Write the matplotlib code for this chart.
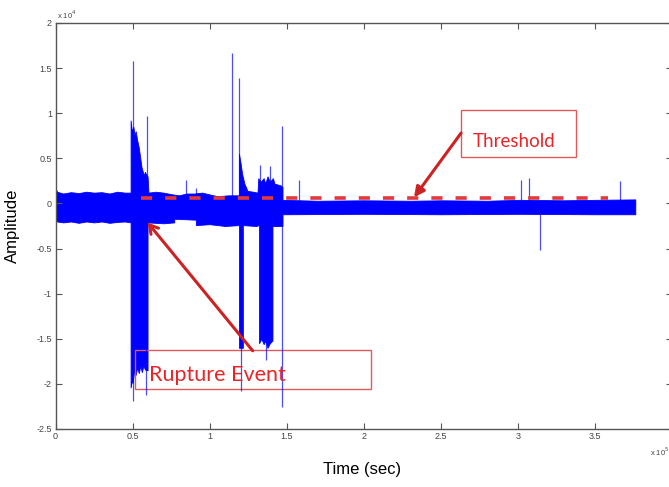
import matplotlib
matplotlib.use("Agg")
import matplotlib.pyplot as plt
from matplotlib.patches import Rectangle

plt.rcParams["font.family"] = ["Liberation Sans", "DejaVu Sans"]
plt.rcParams["axes.unicode_minus"] = False

# Signal envelope (time in units of 1e5, amplitude in units of 1e4)
t_upper = [0.0, 0.01, 0.05, 0.1, 0.15, 0.2, 0.25, 0.3, 0.35, 0.4, 0.45, 0.487,
           0.487, 0.495, 0.505, 0.512, 0.52, 0.53, 0.54, 0.55, 0.558, 0.565, 0.572,
           0.58, 0.585, 0.597, 0.603, 0.65, 0.7, 0.76, 0.8, 0.85, 0.9, 0.95, 1.0,
           1.05, 1.12, 1.19, 1.19, 1.2, 1.21, 1.225, 1.245, 1.28, 1.31, 1.315, 1.33,
           1.35, 1.36, 1.375, 1.385, 1.395, 1.41, 1.42, 1.44, 1.46, 1.472, 1.472,
           1.7, 2.0, 2.3, 2.5, 2.8, 3.0, 3.3, 3.5, 3.76]
a_upper = [0.17, 0.13, 0.11, 0.125, 0.115, 0.13, 0.12, 0.125, 0.11, 0.13, 0.12, 0.12,
           0.92, 0.8, 0.85, 0.76, 0.8, 0.7, 0.62, 0.5, 0.4, 0.36, 0.31,
           0.35, 0.33, 0.3, 0.12, 0.13, 0.12, 0.1, 0.09, 0.11, 0.11, 0.12, 0.1,
           0.08, 0.09, 0.09, 0.55, 0.45, 0.33, 0.22, 0.14, 0.13, 0.12, 0.28, 0.24,
           0.28, 0.22, 0.3, 0.26, 0.25, 0.28, 0.22, 0.21, 0.2, 0.18, 0.04,
           0.03, 0.035, 0.03, 0.035, 0.03, 0.04, 0.035, 0.04, 0.045]

t_lower = [0.0, 0.01, 0.05, 0.1, 0.15, 0.2, 0.25, 0.3, 0.35, 0.4, 0.45, 0.487,
           0.487, 0.495, 0.50, 0.51, 0.52, 0.53, 0.54, 0.55, 0.56, 0.57, 0.58,
           0.597, 0.597, 0.7, 0.77, 0.77, 0.91, 0.91, 1.0, 1.1, 1.19, 1.19, 1.215,
           1.215, 1.3, 1.32, 1.32, 1.335, 1.35, 1.36, 1.375, 1.39, 1.407, 1.407,
           1.472, 1.472, 2.0, 2.5, 3.0, 3.5, 3.76]
a_lower = [-0.17, -0.2, -0.21, -0.2, -0.215, -0.2, -0.21, -0.2, -0.215, -0.205, -0.2, -0.21,
           -2.04, -1.96, -1.99, -1.86, -1.9, -1.82, -1.88, -1.8, -1.87, -1.8, -1.84,
           -1.85, -0.21, -0.22, -0.21, -0.17, -0.18, -0.24, -0.23, -0.25, -0.24, -1.6, -1.6,
           -0.24, -0.25, -0.24, -1.55, -1.5, -1.56, -1.52, -1.6, -1.55, -1.52, -0.25,
           -0.25, -0.12, -0.115, -0.12, -0.115, -0.12, -0.12]

# Isolated spikes
spike_up_t = [0.50, 0.591, 0.844, 0.909, 1.147, 1.19, 1.327, 1.39, 1.47, 1.577, 3.02, 3.07, 3.66]
spike_up_a = [1.58, 0.97, 0.26, 0.17, 1.67, 1.39, 0.43, 0.41, 0.86, 0.26, 0.26, 0.28, 0.25]
spike_dn_t = [0.504, 0.59, 1.20, 1.364, 1.47, 3.14]
spike_dn_a = [-2.19, -2.12, -2.08, -1.74, -2.26, -0.52]

threshold = 0.06
threshold_t = [0.556, 3.58]

x_ticks = [0, 0.5, 1, 1.5, 2, 2.5, 3, 3.5, 4]
y_ticks = [-2.5, -2, -1.5, -1, -0.5, 0, 0.5, 1, 1.5, 2]

W, H = 669, 487
fig = plt.figure(figsize=(W / 100, H / 100), dpi=100)
ax = fig.add_axes([55.5 / W, (H - 429) / H, 616.8 / W, 406 / H])

blue = "#0000FF"
ax.fill_between(t_upper, 0, a_upper, color=blue, lw=0.6, edgecolor=blue)
ax.fill_between(t_lower, a_lower, 0, color=blue, lw=0.6, edgecolor=blue)
ax.vlines(spike_up_t, 0, spike_up_a, color=blue, lw=0.9, alpha=0.7)
ax.vlines(spike_dn_t, spike_dn_a, 0, color=blue, lw=0.9, alpha=0.7)

ax.plot(threshold_t, [threshold, threshold], color="#E03A3A", lw=2.6,
        dashes=(3.1, 3.6), solid_capstyle="butt", dash_capstyle="butt")

ax.set_xlim(0, 4)
ax.set_ylim(-2.5, 2)
ax.set_xticks(x_ticks)
ax.set_yticks(y_ticks)
ax.set_xticklabels(["%g" % v if v < 4 else "" for v in x_ticks])
ax.set_yticklabels(["%g" % v for v in y_ticks])
ax.tick_params(direction="in", length=4, width=0.8, colors="#555555",
               labelsize=6.5, labelcolor="#444444", top=True, right=True, pad=2.5)
for s in ax.spines.values():
    s.set_color("#555555")
    s.set_linewidth(1.0)

ax.set_xlabel("Time (sec)", fontsize=12)
ax.xaxis.set_label_coords((362 - 55.5) / 616.8, -(462 - 429) / 406)
ax.set_ylabel("Amplitude", fontsize=12)
ax.yaxis.set_label_coords((20 - 55.5) / 616.8, 0.5)

ax.text(0.002, 1.006, "x 10$^4$", transform=ax.transAxes, fontsize=5.5,
        color="#444444", ha="left", va="bottom")
fig.text(650 / W, 1 - 452 / H, "x 10$^5$", fontsize=5.5, color="#444444",
         ha="left", va="center")

red_text = "#E8262A"
box_col = "#E05A5A"
arrow_col = "#CC2222"

# Threshold callout
ax.add_patch(Rectangle((2.63, 0.511), 3.377 - 2.63, 1.033 - 0.511, fill=False,
                       ec=box_col, lw=1.0))
ax.text(2.974, 0.69, "Threshold", color=red_text, fontsize=13.5, family="Lato",
        ha="center", va="center")
ax.annotate("", xy=(2.325, 0.067), xytext=(2.63, 0.78),
            arrowprops=dict(arrowstyle="-|>,head_length=0.6,head_width=0.3",
                            color=arrow_col, lw=2.2, shrinkA=0, shrinkB=0))

# Rupture event callout
ax.add_patch(Rectangle((0.513, -2.056), 2.045 - 0.513, -1.622 + 2.056, fill=False,
                       ec=box_col, lw=1.0))
ax.text(0.604, -1.9, "Rupture Event", color=red_text, fontsize=15.5, family="Lato",
        ha="left", va="center")
ax.annotate("", xy=(0.597, -0.211), xytext=(1.279, -1.633),
            arrowprops=dict(arrowstyle="->,head_length=0.6,head_width=0.35",
                            color=arrow_col, lw=2.2, shrinkA=0, shrinkB=0))

fig.savefig("out.png", dpi=100)
